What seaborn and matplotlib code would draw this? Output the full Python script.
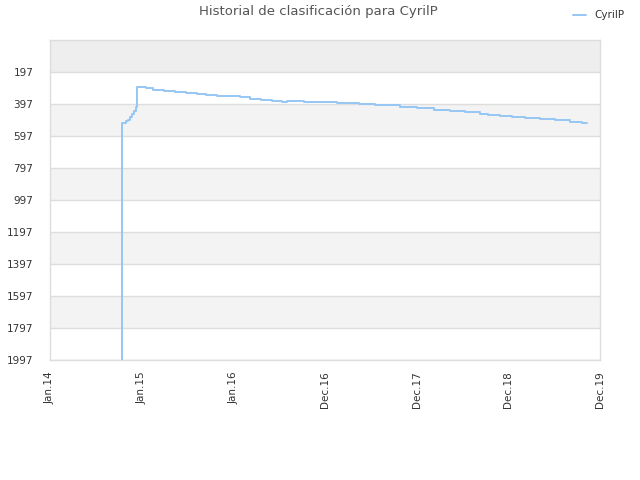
import matplotlib
matplotlib.use('Agg')
import matplotlib.pyplot as plt
import seaborn as sns
import pandas as pd

# --- dados ---
datas = [
    '2014-10-14', '2014-10-15', '2014-10-30', '2014-11-07', '2014-11-15',
    '2014-11-23', '2014-12-01', '2014-12-08', '2014-12-12', '2015-01-20',
    '2015-02-15', '2015-03-30', '2015-05-14', '2015-06-25', '2015-08-08',
    '2015-09-15', '2015-10-27', '2015-12-10', '2016-01-28', '2016-03-07',
    '2016-04-20', '2016-06-03', '2016-07-13', '2016-08-02', '2016-10-08',
    '2017-02-17', '2017-05-15', '2017-07-20', '2017-10-26', '2018-01-01',
    '2018-03-10', '2018-05-13', '2018-07-10', '2018-09-09', '2018-10-11',
    '2018-11-28', '2019-01-15', '2019-03-07', '2019-05-06', '2019-07-05',
    '2019-09-03', '2019-10-20', '2019-11-09',
]
posicoes = [
    2100, 518, 505, 495, 478,
    462, 440, 414, 293, 300,
    308, 314, 320, 327, 334,
    340, 345, 350, 355, 366,
    372, 378, 385, 376, 385,
    389, 397, 405, 416, 422,
    432, 441, 450, 459, 464,
    472, 478, 486, 493, 499,
    508, 516, 516,
]
jogador = 'CyrilP'
ticks_y = [197, 397, 597, 797, 997, 1197, 1397, 1597, 1797, 1997]
ticks_x = ['2014-01-01', '2015-01-01', '2016-01-01', '2016-12-31',
           '2017-12-31', '2018-12-31', '2019-12-31']
rotulos_x = ['Jan.14', 'Jan.15', 'Jan.16', 'Dec.16', 'Dec.17', 'Dec.18', 'Dec.19']

df = pd.DataFrame({'data': pd.to_datetime(datas), 'posicao': posicoes})

sns.set_theme(style="white")
plt.rcParams['font.family'] = ['DejaVu Sans']

fig = plt.figure(figsize=(6.4, 4.8), dpi=100)
ax = fig.add_axes([50 / 640, 120 / 480, 550 / 640, 320 / 480])

# faixas alternadas de fundo
ax.axhspan(-3, 197, color='#eeeeee', zorder=0, lw=0)
for i in range(len(ticks_y) - 1):
    if i % 2 == 1:
        ax.axhspan(ticks_y[i], ticks_y[i + 1], color='#f3f3f3', zorder=0, lw=0)
for t in ticks_y:
    ax.axhline(t, color='#dddddd', lw=1, zorder=1)

sns.lineplot(data=df, x='data', y='posicao', drawstyle='steps-post',
             estimator=None, sort=False, color='#96c6f4', lw=1.4,
             label=jogador, ax=ax, zorder=3, legend=False)

ax.set_xlim(pd.Timestamp('2014-01-01'), pd.Timestamp('2019-12-31'))
ax.set_ylim(1997, -3)
ax.set_yticks(ticks_y)
ax.set_yticklabels([str(t) for t in ticks_y])
ax.set_xticks(pd.to_datetime(ticks_x))
ax.set_xticklabels(rotulos_x, rotation=90)
ax.tick_params(axis='both', length=0, labelsize=7.5, colors='#333333')
ax.tick_params(axis='y', pad=12)
ax.tick_params(axis='x', pad=8)
ax.set_xlabel('')
ax.set_ylabel('')

for s in ax.spines.values():
    s.set_color('#dddddd')
    s.set_linewidth(1)

fig.text(0.497, 0.975, f'Historial de clasificación para {jogador}',
         ha='center', va='center', fontsize=9.5, color='#555555')

h, l = ax.get_legend_handles_labels()
fig.legend(h, l, loc='center right', bbox_to_anchor=(0.99, 0.968),
           frameon=False, fontsize=7.5, handlelength=1.2, handletextpad=0.8,
           labelcolor='#333333')

fig.savefig('out.png', dpi=100)
plt.close('all')
